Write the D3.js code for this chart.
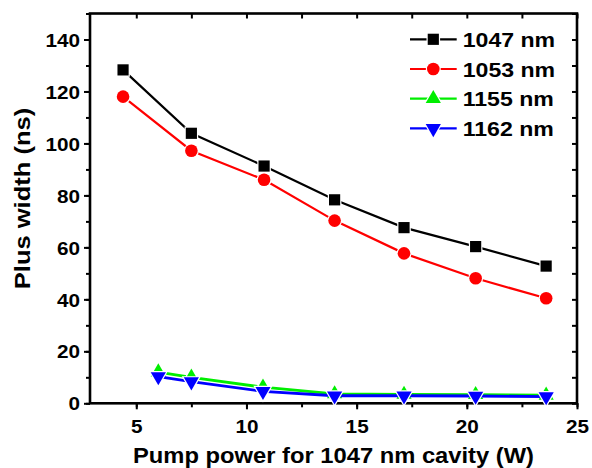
<!DOCTYPE html>
<html>
<head>
<meta charset="utf-8">
<script src="https://cdn.jsdelivr.net/npm/d3@7"></script>
<style>
  body { margin: 0; background: #fff; }
  text { font-family: "Liberation Sans", Arial, sans-serif; font-weight: bold; fill: #000; }
</style>
</head>
<body>
<script>
// data
var power1047 = [4.4, 7.5, 10.8, 14.0, 17.15, 20.4, 23.6];
var width1047 = [128.3, 103.9, 91.3, 78.3, 67.6, 60.3, 52.8];
var width1053 = [118.0, 97.2, 86.0, 70.3, 57.7, 48.1, 40.4];
var power115x = [6.0, 7.5, 10.75, 14.0, 17.15, 20.4, 23.6];
var width1155 = [12.0, 10.0, 6.2, 3.6, 3.4, 3.3, 3.1];
var width1162 = [10.3, 8.3, 4.6, 2.9, 2.9, 2.8, 2.6];
var seriesNames = ["1047 nm", "1053 nm", "1155 nm", "1162 nm"];
var seriesColors = ["#000000", "#ff0000", "#00ee00", "#0000ff"];
var xTicks = [5, 10, 15, 20, 25];
var yTicks = [0, 20, 40, 60, 80, 100, 120, 140];

var margin = { top: 13.5, right: 15, bottom: 64.7, left: 90 };
var W = 592, H = 468;
var width = W - margin.left - margin.right,
  height = H - margin.top - margin.bottom;

var x = d3.scaleLinear().domain([2.9, 25]).range([0, width]);
var y = d3.scaleLinear().domain([0, 150]).range([height, 0]);

var svg = d3
  .select("body")
  .append("svg")
  .attr("width", W)
  .attr("height", H)
  .append("g")
  .attr("transform", "translate(" + margin.left + "," + margin.top + ")");

var minorX = d3.range(2.5, 25.01, 2.5).filter(function (v) { return v >= 2.9; });
var minorY = d3.range(0, 150.01, 10);

// minor ticks (drawn first, frame on top)
function addAxis(axis, transform) {
  var g = svg.append("g").attr("transform", transform).call(axis);
  g.select(".domain").remove();
  g.selectAll("line").attr("stroke", "#000").attr("stroke-width", 2);
  return g;
}
addAxis(d3.axisBottom(x).tickValues(minorX).tickSize(4).tickFormat(""), "translate(0," + height + ")");
addAxis(d3.axisLeft(y).tickValues(minorY).tickSize(4).tickFormat(""), "");
addAxis(d3.axisBottom(x).tickValues(minorX).tickSize(5).tickFormat(""), "");
addAxis(d3.axisLeft(y).tickValues(minorY).tickSize(5).tickFormat(""), "translate(" + width + ",0)");

// major ticks with labels
var xg = addAxis(d3.axisBottom(x).tickValues(xTicks).tickSize(6).tickFormat(d3.format("d")), "translate(0," + height + ")");
xg.selectAll("text")
  .attr("y", 30).attr("dy", 0)
  .attr("transform", "scale(1.12,1)")
  .style("font-size", "18.5px");

var yg = addAxis(d3.axisLeft(y).tickValues(yTicks).tickSize(6).tickFormat(d3.format("d")), "");
yg.selectAll("text")
  .attr("x", -10 / 1.12).attr("dy", "0.36em")
  .attr("transform", "scale(1.12,1)")
  .style("font-size", "18.5px");

// frame
svg.append("rect")
  .attr("x", 0).attr("y", 0)
  .attr("width", width).attr("height", height)
  .attr("fill", "none")
  .attr("stroke", "#000")
  .attr("stroke-width", 2.6);

// axis titles
svg.append("text")
  .attr("transform", "translate(" + (width / 2) + "," + (height + 59.5) + ") scale(1.08,1)")
  .style("font-size", "22px")
  .style("text-anchor", "middle")
  .text("Pump power for 1047 nm cavity (W)");

svg.append("text")
  .attr("transform", "translate(" + (29.5 - margin.left) + "," + (198.5 - margin.top) + ") rotate(-90) scale(1.16,1)")
  .style("font-size", "22px")
  .style("text-anchor", "middle")
  .text("Plus width (ns)");

// series
var series = [
  { name: seriesNames[0], color: seriesColors[0], xs: power1047, ys: width1047, sym: d3.symbolSquare, size: 125, rot: 0, lw: 2.2 },
  { name: seriesNames[1], color: seriesColors[1], xs: power1047, ys: width1053, sym: d3.symbolCircle, size: 125, rot: 0, lw: 2.2 },
  { name: seriesNames[2], color: seriesColors[2], xs: power115x, ys: width1155, sym: d3.symbolTriangle, size: 100, rot: 0, lw: 2.8 },
  { name: seriesNames[3], color: seriesColors[3], xs: power115x, ys: width1162, sym: d3.symbolTriangle, size: 100, rot: 180, lw: 2.8 }
];

var line = d3.line()
  .x(function (d) { return x(d[0]); })
  .y(function (d) { return y(d[1]); });

function drawMarker(g, s, px, py) {
  g.append("path")
    .attr("d", d3.symbol().type(s.sym).size(s.size)())
    .attr("transform", "translate(" + px + "," + py + ") rotate(" + s.rot + ")")
    .attr("fill", s.color)
    .attr("stroke", "#fff")
    .attr("stroke-width", 2.4)
    .style("paint-order", "stroke");
}

series.forEach(function (s) {
  var pts = s.xs.map(function (v, i) { return [v, s.ys[i]]; });
  var g = svg.append("g");
  g.append("path")
    .datum(pts)
    .attr("d", line)
    .attr("fill", "none")
    .attr("stroke", s.color)
    .attr("stroke-width", s.lw);
  pts.forEach(function (p) {
    drawMarker(g, s, x(p[0]), y(p[1]));
  });
});

// legend
var legend = svg.selectAll(".legend")
  .data(series)
  .enter()
  .append("g")
  .attr("class", "legend")
  .attr("transform", function (d, i) {
    return "translate(" + (410 - margin.left) + "," + (39.3 - margin.top + i * 29.7) + ")";
  });

legend.append("line")
  .attr("x1", 0).attr("x2", 46.7)
  .attr("y1", 0).attr("y2", 0)
  .attr("stroke", function (d) { return d.color; })
  .attr("stroke-width", 2.2);

legend.each(function (d) {
  drawMarker(d3.select(this), d, 23.3, 0);
});

legend.append("text")
  .attr("transform", "translate(52.7,7.5) scale(1.1,1)")
  .style("font-size", "21px")
  .text(function (d) { return d.name; });
</script>
</body>
</html>
